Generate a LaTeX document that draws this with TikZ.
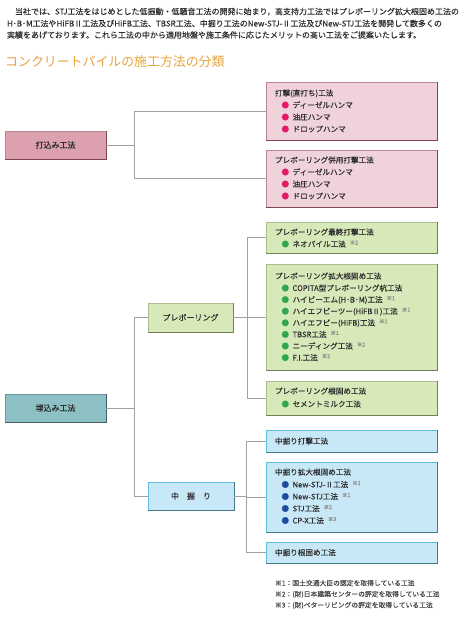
\documentclass[tikz,border=0pt]{standalone}
\usepackage{fontspec}
\setmainfont{Noto Sans CJK JP}[FakeBold=0.3]
\newfontfamily\ttlfont{Noto Sans CJK JP}
\usetikzlibrary{calc}
\definecolor{txtc}{HTML}{2E2E2E}
\definecolor{connc}{HTML}{A0A0A0}
\definecolor{ttlor}{HTML}{E8A33D}
\definecolor{pkfill}{HTML}{F0D2DA}
\definecolor{pkdraw}{HTML}{B98593}
\definecolor{pkshad}{HTML}{7E4452}
\definecolor{pkmain}{HTML}{DCA0AE}
\definecolor{pkbul}{HTML}{E5186A}
\definecolor{gnfill}{HTML}{D7E8B9}
\definecolor{gndraw}{HTML}{A9BE8C}
\definecolor{gnshad}{HTML}{6F7F5A}
\definecolor{gnbul}{HTML}{2EA84B}
\definecolor{blfill}{HTML}{C8E8F7}
\definecolor{bldraw}{HTML}{62BDDC}
\definecolor{blshad}{HTML}{46788F}
\definecolor{blbul}{HTML}{1F4D9C}
\definecolor{tlfill}{HTML}{8EC1C6}
\definecolor{tldraw}{HTML}{6A9CA2}
\definecolor{tlshad}{HTML}{3E5F64}
\definecolor{notec}{HTML}{8C8C8C}
\definecolor{footc}{HTML}{4A4A4A}
\tikzset{
  box/.style={rectangle, inner sep=0pt, outer sep=0pt, anchor=north west, line width=0.6pt, text=txtc, font=\fontsize{8}{9.6}\selectfont},
  pkbox/.style={box, fill=pkfill, draw=pkdraw},
  pkmbox/.style={box, fill=pkmain, draw=pkdraw},
  gnbox/.style={box, fill=gnfill, draw=gndraw},
  blbox/.style={box, fill=blfill, draw=bldraw},
  tlbox/.style={box, fill=tlfill, draw=tldraw},
  lbl/.style={text=txtc, inner sep=0pt, outer sep=0pt, anchor=base west, font=\fontsize{7.6}{9}\selectfont},
  intro/.style={text=txtc, inner sep=0pt, outer sep=0pt, anchor=base west, font=\fontsize{8}{9}\selectfont},
  foot/.style={text=footc, inner sep=0pt, outer sep=0pt, anchor=base west, font=\fontsize{6.8}{8}\selectfont},
  conn/.style={draw=connc, line width=0.9pt},
}
\newcommand\mybox[7]{\node[#2, minimum width=#5pt, minimum height=#6pt] (#1) at (#3,#4) {#7};}
\newcommand\shad[2]{\draw[draw=#2, line width=1.1pt] ([xshift=0.55pt,yshift=0.3pt]#1.north east) -- ([xshift=0.55pt,yshift=-0.55pt]#1.south east) -- ([yshift=-0.55pt]#1.south west);}
\newcommand\tline[3]{\node[lbl] (#1) at (275,{#2+2.9}) {#3};}
\newcommand\bline[4]{\node[lbl] (#1) at (281.5,{#2+2.9}) {\textcolor{#3}{●}\hspace{3.5pt}#4};}
\newcommand\nt[1]{\hspace{4pt}\textcolor{notec}{\raisebox{2.4pt}{\fontsize{5.4}{5.4}\selectfont ※#1}}}
\begin{document}
\begin{tikzpicture}[x=1pt,y=-1pt]
\useasboundingbox (0,0) rectangle (459,618);
% intro text
\node[intro] (i1) at (7,{11.5+3}) {　当社では、STJ工法をはじめとした低振動・低騒音工法の開発に始まり，高支持力工法ではプレボーリング拡大根固め工法の};
\node[intro] (i2) at (7,{23.5+3}) {H･B･M工法やHiFBⅡ工法及びHiFB工法、TBSR工法、中掘り工法のNew-STJ-Ⅱ工法及びNew-STJ工法を開発して数多くの};
\node[intro] (i3) at (7,{35+3}) {実績をあげております。これら工法の中から適用地盤や施工条件に応じたメリットの高い工法をご提案いたします。};
\node[text=ttlor, inner sep=0pt, anchor=base west, font=\ttlfont\fontsize{12.9}{14}\selectfont] (ttl) at (5,{62+4.9}) {コンクリートパイルの施工方法の分類};
% left boxes
\mybox{uchi}{pkmbox}{5}{131}{101}{28}{打込み工法}
\mybox{ume}{tlbox}{5}{394}{101}{28}{埋込み工法}
\mybox{pre}{gnbox}{148}{303}{85}{29}{プレボーリング}
\mybox{naka}{blbox}{148}{482}{86}{28}{中　掘　り}
% right boxes
\mybox{p1}{pkbox}{266}{82}{171}{58}{}
\mybox{p2}{pkbox}{266}{150}{171}{57}{}
\mybox{g1}{gnbox}{266}{222}{171}{31}{}
\mybox{g2}{gnbox}{266}{264}{171}{106}{}
\mybox{g3}{gnbox}{266}{381}{171}{34}{}
\mybox{b1}{blbox}{266}{430}{171}{22}{}
\mybox{b2}{blbox}{266}{462}{171}{70}{}
\mybox{b3}{blbox}{266}{542}{171}{21}{}
\shad{uchi}{pkshad}\shad{p1}{pkshad}\shad{p2}{pkshad}
\shad{ume}{tlshad}
\shad{pre}{gnshad}\shad{g1}{gnshad}\shad{g2}{gnshad}\shad{g3}{gnshad}
\shad{naka}{blshad}\shad{b1}{blshad}\shad{b2}{blshad}\shad{b3}{blshad}
% junctions
\coordinate (ju) at (134,0);
\coordinate (jp) at (247,0);
\coordinate (jn) at (246,0);
\draw[conn] (uchi.east) -- (uchi.east -| ju);
\draw[conn] (p1.west) -- (p1.west -| ju) -- (p2.west -| ju) -- (p2.west);
\draw[conn] (ume.east) -- (ume.east -| ju);
\draw[conn] (pre.west) -- (pre.west -| ju) -- (naka.west -| ju) -- (naka.west);
\draw[conn] (pre.east) -- (pre.east -| jp);
\draw[conn] (g1.west) -- (g1.west -| jp) -- (g3.west -| jp) -- (g3.west);
\draw[conn] (g2.west) -- (g2.west -| jp);
\draw[conn] (naka.east) -- (naka.east -| jn);
\draw[conn] (b1.west) -- (b1.west -| jn) -- (b3.west -| jn) -- (b3.west);
\draw[conn] (b2.west) -- (b2.west -| jn);
% pink texts
\tline{p1t}{93}{打撃(直打ち)工法}
\bline{p1a}{105}{pkbul}{ディーゼルハンマ}
\bline{p1b}{117}{pkbul}{油圧ハンマ}
\bline{p1c}{129}{pkbul}{ドロップハンマ}
\tline{p2t}{160}{プレボーリング併用打撃工法}
\bline{p2a}{172}{pkbul}{ディーゼルハンマ}
\bline{p2b}{184}{pkbul}{油圧ハンマ}
\bline{p2c}{196}{pkbul}{ドロップハンマ}
% green texts
\tline{g1t}{232}{プレボーリング最終打撃工法}
\bline{g1a}{244}{gnbul}{ネオパイル工法\nt{2}}
\tline{g2t}{276}{プレボーリング拡大根固め工法}
\bline{g2a}{288}{gnbul}{COPITA型プレボーリング杭工法}
\bline{g2b}{299.6}{gnbul}{ハイビーエム(H･B･M)工法\nt{1}}
\bline{g2c}{311.2}{gnbul}{ハイエフビーツー(HiFBⅡ)工法\nt{1}}
\bline{g2d}{322.8}{gnbul}{ハイエフビー(HiFB)工法\nt{1}}
\bline{g2e}{334.4}{gnbul}{TBSR工法\nt{1}}
\bline{g2f}{346}{gnbul}{ニーディング工法\nt{2}}
\bline{g2g}{357.6}{gnbul}{F.I.工法\nt{2}}
\tline{g3t}{391}{プレボーリング根固め工法}
\bline{g3a}{404}{gnbul}{セメントミルク工法}
% blue texts
\tline{b1t}{441}{中掘り打撃工法}
\tline{b2t}{472}{中掘り拡大根固め工法}
\bline{b2a}{484.5}{blbul}{New-STJ-Ⅱ工法\nt{1}}
\bline{b2b}{496.5}{blbul}{New-STJ工法\nt{1}}
\bline{b2c}{508.5}{blbul}{STJ工法\nt{2}}
\bline{b2d}{520.5}{blbul}{CP-X工法\nt{3}}
\tline{b3t}{552.5}{中掘り根固め工法}
% footnotes
\node[foot] (f1) at (275,{583+2.6}) {※1：国土交通大臣の認定を取得している工法};
\node[foot] (f2) at (275,{594+2.6}) {※2：(財)日本建築センターの評定を取得している工法};
\node[foot] (f3) at (275,{605+2.6}) {※3：(財)ベターリビングの評定を取得している工法};
\end{tikzpicture}
\end{document}
